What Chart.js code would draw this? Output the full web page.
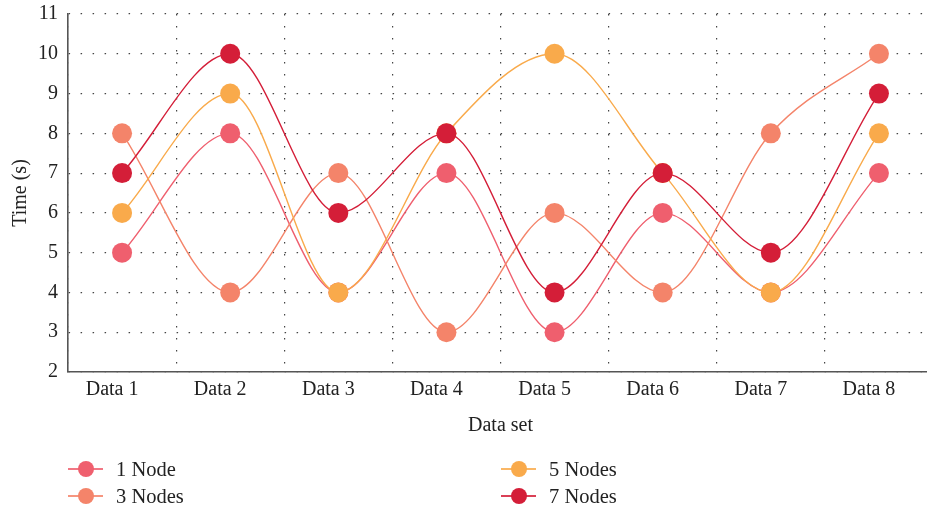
<!DOCTYPE html>
<html>
<head>
<meta charset="utf-8">
<script src="https://cdn.jsdelivr.net/npm/chart.js@4/dist/chart.umd.min.js"></script>
<style>
  html, body { margin: 0; padding: 0; background: #fff; overflow: hidden; }
  #wrap { position: relative; width: 943px; height: 509px; }
  #c { display: block; width: 943px; height: 509px; }
  #legend { position: absolute; left: 0; top: 0; width: 927px; height: 509px; pointer-events: none;
            font-family: "Liberation Serif", "DejaVu Serif", serif; font-size: 20.5px; color: #222; }
  .item { position: absolute; height: 24px; }
  .line { position: absolute; top: 11px; width: 35px; height: 1.5px; opacity: 0.85; }
  .dot { position: absolute; top: 4px; width: 16px; height: 16px; border-radius: 50%; }
  .lbl { position: absolute; top: 0; line-height: 24px; white-space: nowrap; }
</style>
</head>
<body>
<div id="wrap">
  <canvas id="c" width="943" height="509"></canvas>
  <div id="legend"></div>
</div>
<script>
const categories = ["Data 1", "Data 2", "Data 3", "Data 4", "Data 5", "Data 6", "Data 7", "Data 8"];
const seriesNames = ["1 Node", "3 Nodes", "5 Nodes", "7 Nodes"];
const node1 = [5, 8, 4, 7, 3, 6, 4, 7];
const node3 = [8, 4, 7, 3, 6, 4, 8, 10];
const node5 = [6, 9, 4, 8, 10, 7, 4, 8];
const node7 = [7, 10, 6, 8, 4, 7, 5, 9];
const yTicks = [2, 3, 4, 5, 6, 7, 8, 9, 10, 11];
const colors = ["#EF5F6E", "#F4846A", "#F9AA4B", "#D41E38"];

const seriesValues = [node1, node3, node5, node7];
const FONT = "'Liberation Serif', 'DejaVu Serif', serif";

const datasets = seriesValues.map((vals, i) => ({
  label: seriesNames[i],
  data: vals,
  borderColor: colors[i],
  backgroundColor: colors[i],
  pointBackgroundColor: colors[i],
  pointBorderColor: colors[i],
  pointBorderWidth: 0,
  pointRadius: 10,
  pointHoverRadius: 10,
  borderWidth: 1.4,
  cubicInterpolationMode: 'monotone',
  fill: false,
  clip: false,
  order: seriesValues.length - i
}));

const gridColor = '#444';
const dotted = [1.5, 10.5];

new Chart(document.getElementById('c'), {
  type: 'line',
  data: { labels: categories, datasets },
  options: {
    responsive: false,
    animation: false,
    events: [],
    layout: { padding: { top: 14, right: 2, bottom: 71, left: 0 } },
    plugins: { legend: { display: false }, tooltip: { enabled: false } },
    scales: {
      x: {
        offset: true,
        afterFit: (axis) => { axis.height = 66; axis.paddingLeft = 0; axis.paddingRight = 0; },
        grid: { display: true, offset: true, color: gridColor, lineWidth: 1.2, drawTicks: false },
        border: { display: true, color: '#555', width: 1.6, dash: dotted, dashOffset: 0 },
        ticks: { color: '#222', font: { family: FONT, size: 20 }, padding: 6, maxRotation: 0, labelOffset: -10 },
        title: { display: true, text: 'Data set', color: '#222', font: { family: FONT, size: 20 }, padding: { top: 12, bottom: 0 } }
      },
      y: {
        min: yTicks[0],
        max: yTicks[yTicks.length - 1],
        afterBuildTicks: (axis) => { axis.ticks = yTicks.map(v => ({ value: v })); },
        afterFit: (axis) => { axis.width = 68; axis.paddingTop = 0; axis.paddingBottom = 0; },
        grid: { display: true, color: gridColor, lineWidth: 1.2, drawTicks: false },
        border: { display: true, color: '#555', width: 1.6, dash: dotted, dashOffset: 0 },
        ticks: { color: '#222', font: { family: FONT, size: 20 }, padding: 10 },
        title: { display: true, text: 'Time (s)', color: '#222', font: { family: FONT, size: 20 }, padding: { top: 9, bottom: 8 } }
      }
    }
  }
});
</script>
<script>
// HTML legend built from the series names / colours
(function () {
  const lg = document.getElementById('legend');
  const pos = [[68, 469], [68, 496], [501, 469], [501, 496]];
  seriesNames.forEach((name, i) => {
    const it = document.createElement('div');
    it.className = 'item';
    it.style.left = pos[i][0] + 'px';
    it.style.top = (pos[i][1] - 12) + 'px';
    it.innerHTML = '<div class="line" style="left:0;background:' + colors[i] + '"></div>' +
      '<div class="dot" style="left:' + (18 - 8) + 'px;background:' + colors[i] + '"></div>' +
      '<div class="lbl" style="left:48px">' + name + '</div>';
    lg.appendChild(it);
  });
})();
</script>
</body>
</html>
